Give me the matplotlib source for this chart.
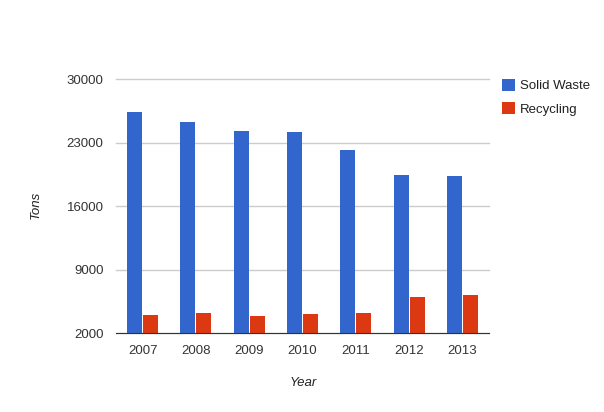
import matplotlib
matplotlib.use("Agg")
import matplotlib.pyplot as plt
import numpy as np

years = ["2007", "2008", "2009", "2010", "2011", "2012", "2013"]
solid_waste = [26400, 25300, 24300, 24200, 22200, 19450, 19350]
recycling = [4000, 4250, 3900, 4100, 4200, 6000, 6200]
y_ticks = [2000, 9000, 16000, 23000, 30000]

plt.rcParams['font.family'] = ['Liberation Sans', 'DejaVu Sans']

fig = plt.figure(figsize=(6.04, 4.12), dpi=100)
ax = fig.add_axes([116/604, 1-333/412, (489-116)/604, (333-79.5)/412])

x = np.arange(len(years))
w = 0.28
ax.bar(x - 0.15, np.array(solid_waste) - 2000, w, bottom=2000, color="#3366cc", label="Solid Waste", zorder=3)
ax.bar(x + 0.15, np.array(recycling) - 2000, w, bottom=2000, color="#dc3912", label="Recycling", zorder=3)

ax.set_xlim(-0.5, len(years) - 0.5)
ax.set_ylim(2000, 30000)
ax.set_yticks(y_ticks)
ax.set_yticklabels([str(t) for t in y_ticks])
ax.set_xticks(x)
ax.set_xticklabels(years)
ax.grid(axis='y', color="#cccccc", linewidth=1, zorder=0)
for gl in ax.get_ygridlines():
    gl.set_clip_on(False)
ax.tick_params(axis='both', length=0, labelsize=9.5, colors="#333333")
ax.tick_params(axis='y', pad=9)
ax.tick_params(axis='x', pad=9)
for s in ['top', 'right', 'left']:
    ax.spines[s].set_visible(False)
ax.spines['bottom'].set_color("#333333")
ax.spines['bottom'].set_zorder(4)

fig.text(36/604, 1-205/412, "Tons", rotation=90, style='italic', fontsize=9.5,
         color="#222222", ha='center', va='center')
fig.text(303/604, 1-383/412, "Year", style='italic', fontsize=9.5,
         color="#222222", ha='center', va='center')

leg = ax.legend(loc='upper left', bbox_to_anchor=(1.035, 1.003), frameon=False,
                fontsize=9.5, handlelength=1.0, handleheight=1.05, handletextpad=0.35,
                labelspacing=0.75, borderaxespad=0, borderpad=0)
for t in leg.get_texts():
    t.set_color("#222222")

fig.savefig("out.png", dpi=100)
